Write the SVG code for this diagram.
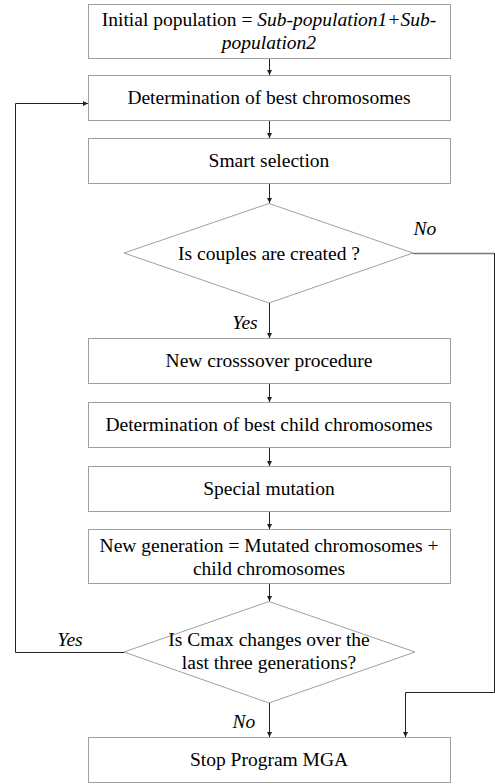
<svg xmlns="http://www.w3.org/2000/svg" width="495" height="784" viewBox="0 0 495 784">
<style>
.box{fill:#fff;stroke:#a0a0a0;stroke-width:1}
.c{fill:none;stroke:#222;stroke-width:1}
.g{fill:none;stroke:#777;stroke-width:1.4}
</style>
<defs>
<marker id="ah" markerWidth="6" markerHeight="6" refX="5" refY="3" orient="auto" markerUnits="userSpaceOnUse">
<path d="M0,0.5 L5,3 L0,5.5 Z" fill="#222"/>
</marker>
</defs>
<rect width="495" height="784" fill="#fff"/>
<g font-family="Liberation Serif" font-size="19.5" text-anchor="middle" fill="#000">
<g id="n1"><rect class="box" x="88.5" y="4.5" width="362" height="54"/>
<text font-family="Liberation Serif" x="269" y="26">Initial population =  <tspan font-style="italic">Sub-population1+Sub-</tspan></text>
<text font-family="Liberation Serif" font-style="italic" x="269" y="49">population2</text></g>
<g id="n2"><rect class="box" x="88.5" y="75.5" width="362" height="45"/>
<text font-family="Liberation Serif" x="269" y="104">Determination of best chromosomes</text></g>
<g id="n3"><rect class="box" x="88.5" y="138.5" width="362" height="45"/>
<text font-family="Liberation Serif" x="269" y="167">Smart selection</text></g>
<g id="n4"><polygon class="box" points="269,203.5 413,253 269,303 124,253"/>
<text font-family="Liberation Serif" x="269" y="260">Is couples are created ?</text></g>
<g id="n5"><rect class="box" x="88.5" y="338.5" width="362" height="45"/>
<text font-family="Liberation Serif" x="269" y="367">New crosssover procedure</text></g>
<g id="n6"><rect class="box" x="88.5" y="402.5" width="362" height="45"/>
<text font-family="Liberation Serif" x="269" y="431">Determination of best child chromosomes</text></g>
<g id="n7"><rect class="box" x="88.5" y="466.5" width="362" height="45"/>
<text font-family="Liberation Serif" x="269" y="495">Special mutation</text></g>
<g id="n8"><rect class="box" x="88.5" y="529.5" width="362" height="54"/>
<text font-family="Liberation Serif" x="269" y="552">New generation = Mutated chromosomes +</text>
<text font-family="Liberation Serif" x="269" y="575">child chromosomes</text></g>
<g id="n9"><polygon class="box" points="269,601.5 415,652 269,703 124,652"/>
<text font-family="Liberation Serif" x="269" y="646">Is Cmax changes over the</text>
<text font-family="Liberation Serif" x="269" y="669">last three generations?</text></g>
<g id="n10"><rect class="box" x="88.5" y="737.5" width="362" height="45"/>
<text font-family="Liberation Serif" x="269" y="766">Stop Program MGA</text></g>
</g>
<g id="connectors">
<path class="c" d="M269.5,59 V75" marker-end="url(#ah)"/>
<path class="c" d="M269.5,121 V138" marker-end="url(#ah)"/>
<path class="c" d="M269.5,184 V203" marker-end="url(#ah)"/>
<path class="c" d="M269.5,303 V338" marker-end="url(#ah)"/>
<path class="c" d="M269.5,384 V402" marker-end="url(#ah)"/>
<path class="c" d="M269.5,448 V466" marker-end="url(#ah)"/>
<path class="c" d="M269.5,512 V529" marker-end="url(#ah)"/>
<path class="c" d="M269.5,584 V601" marker-end="url(#ah)"/>
<path class="c" d="M269.5,703 V737" marker-end="url(#ah)"/>
<path class="g" d="M413,253.5 H494"/>
<path class="c" d="M494.5,253 V692.5 H405.5 V737" marker-end="url(#ah)"/>
<path class="c" d="M124,652.5 H15.5 V103.5 H88" marker-end="url(#ah)"/>
<g font-family="Liberation Serif" font-size="19.5" text-anchor="middle" font-style="italic" fill="#000">
<text font-family="Liberation Serif" x="425" y="235">No</text>
<text font-family="Liberation Serif" x="245" y="329">Yes</text>
<text font-family="Liberation Serif" x="70" y="646">Yes</text>
<text font-family="Liberation Serif" x="244" y="728">No</text>
</g>
</g>
</svg>
